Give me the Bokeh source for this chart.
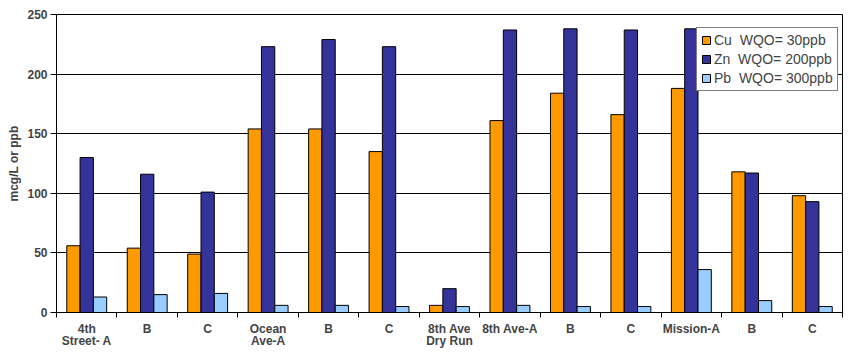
from bokeh.plotting import figure
from bokeh.models import FixedTicker, Legend, LegendItem, Range1d, ColumnDataSource
from bokeh.embed import file_html
from bokeh.resources import INLINE

categories = ["4th\nStreet- A", "B", "C", "Ocean\nAve-A", "B", "C", "8th Ave\nDry Run",
              "8th Ave-A", "B", "C", "Mission-A", "B", "C"]
cu = [56, 54, 49, 154, 154, 135, 6, 161, 184, 166, 188, 118, 98]
zn = [130, 116, 101, 223, 229, 223, 20, 237, 238, 237, 238, 117, 93]
pb = [13, 15, 16, 6, 6, 5, 5, 6, 5, 5, 36, 10, 5]
series_names = ["Cu  WQO= 30ppb", "Zn  WQO= 200ppb", "Pb  WQO= 300ppb"]
colors = ["#FF9900", "#333399", "#99CCFF"]
y_ticks = [0, 50, 100, 150, 200, 250]

n = len(categories)
centers = [i + 0.5 for i in range(n)]

p = figure(frame_width=786, frame_height=298, output_backend="svg", toolbar_location=None,
           x_range=Range1d(0, n), y_range=Range1d(0, 250),
           min_border_left=56, min_border_right=8, min_border_top=14, min_border_bottom=30)
p.background_fill_color = "white"
p.border_fill_color = "white"
p.outline_line_color = "black"
p.outline_line_width = 1

bw = 0.22
offsets = [-bw, 0, bw]
renderers = []
for vals, off, col in zip([cu, zn, pb], offsets, colors):
    src = ColumnDataSource(dict(x=[c + off for c in centers], top=vals))
    r = p.vbar(x="x", top="top", bottom=0, width=bw, source=src,
               fill_color=col, line_color="black", line_width=1)
    renderers.append(r)

# axes
p.xaxis.ticker = FixedTicker(ticks=centers, minor_ticks=list(range(n + 1)))
p.xaxis.major_label_overrides = {c: lab for c, lab in zip(centers, categories)}
p.xaxis.major_tick_line_color = None
p.xaxis.major_tick_out = 0
p.xaxis.major_tick_in = 0
p.xaxis.minor_tick_line_color = "black"
p.xaxis.minor_tick_out = 5
p.xaxis.minor_tick_in = 0
p.xaxis.major_label_text_font = "Liberation Sans"
p.xaxis.major_label_text_font_style = "bold"
p.xaxis.major_label_text_font_size = "12px"
p.xaxis.major_label_text_line_height = 0.9
p.xaxis.major_label_standoff = 4
p.xaxis.axis_line_color = "black"

p.yaxis.ticker = FixedTicker(ticks=y_ticks, minor_ticks=[])
p.yaxis.major_tick_out = 6
p.yaxis.major_tick_in = 0
p.yaxis.major_tick_line_color = "black"
p.yaxis.axis_line_color = "black"
p.yaxis.major_label_standoff = 3
p.yaxis.major_label_text_font = "Liberation Sans"
p.yaxis.major_label_text_font_style = "bold"
p.yaxis.major_label_text_font_size = "12px"
p.yaxis.axis_label = "mcg/L or ppb"
p.yaxis.axis_label_text_font = "Liberation Sans"
p.yaxis.axis_label_text_font_style = "bold"
p.yaxis.axis_label_text_font_size = "12px"
p.yaxis.axis_label_standoff = 3

p.xgrid.grid_line_color = None
p.ygrid.ticker = FixedTicker(ticks=y_ticks)
p.ygrid.grid_line_color = "black"
p.ygrid.grid_line_width = 1

legend = Legend(items=[LegendItem(label=nm, renderers=[r]) for nm, r in zip(series_names, renderers)],
                location=(640, 221))
legend.label_text_font = "Liberation Sans"
legend.label_text_font_size = "14px"
legend.border_line_color = "black"
legend.background_fill_alpha = 1
legend.glyph_width = 10
legend.glyph_height = 10
legend.label_standoff = 3
legend.spacing = 3
legend.padding = 4
legend.margin = 0
legend.label_height = 15
p.add_layout(legend, "center")

open("out.html", "w").write(file_html(p, INLINE))
